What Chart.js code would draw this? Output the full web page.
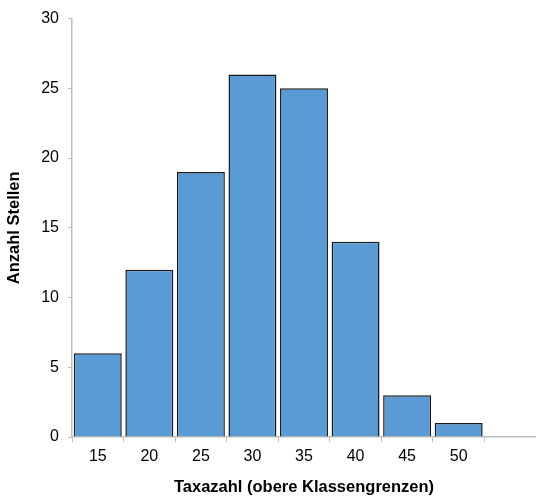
<!DOCTYPE html>
<html>
<head>
<meta charset="utf-8">
<script src="https://cdn.jsdelivr.net/npm/chart.js@4/dist/chart.umd.min.js"></script>
<style>
  html, body { margin: 0; padding: 0; background: #fff; }
  #wrap { width: 536px; height: 497px; position: relative; }
</style>
</head>
<body>
<div id="wrap"><canvas id="histChart"></canvas></div>
<script>
// obere Klassengrenzen (last slot stays empty, like the original axis)
const classLabels = ["15", "20", "25", "30", "35", "40", "45", "50", ""];
const siteCounts = [6, 12, 19, 26, 25, 14, 3, 1, null];
const yTicks = [0, 5, 10, 15, 20, 25, 30];

const axisGrey = "#bfbfbf";
const font = "'Liberation Sans', Arial, sans-serif";

new Chart(document.getElementById("histChart").getContext("2d"), {
    type: "bar",
    data: {
        labels: classLabels,
        datasets: [{
            label: "Anzahl Stellen",
            data: siteCounts,
            backgroundColor: "#5b9bd5",
            borderColor: "#1a1a1a",
            borderWidth: 1.5,
            barPercentage: 0.93,
            categoryPercentage: 1.0
        }]
    },
    options: {
        responsive: true,
        maintainAspectRatio: false,
        animation: false,
        layout: { padding: { top: 16, right: 0, bottom: 0, left: 0 } },
        plugins: {
            legend: { display: false },
            tooltip: { enabled: false }
        },
        scales: {
            x: {
                grid: {
                    display: true,
                    offset: true,
                    drawOnChartArea: false,
                    drawTicks: true,
                    tickLength: 5,
                    color: axisGrey
                },
                border: { color: axisGrey, width: 1.5 },
                ticks: {
                    color: "#000",
                    font: { family: font, size: 16 },
                    padding: 5,
                    maxRotation: 0
                },
                title: {
                    display: true,
                    text: "Taxazahl (obere Klassengrenzen)",
                    color: "#000",
                    font: { family: font, size: 16.5, weight: "bold" },
                    padding: { top: 8, bottom: 0 }
                },
                afterFit: s => { s.height = 60; }
            },
            y: {
                min: 0,
                max: 30,
                afterBuildTicks: s => { s.ticks = yTicks.map(v => ({ value: v })); },
                grid: {
                    display: true,
                    drawOnChartArea: false,
                    drawTicks: true,
                    tickLength: 4,
                    color: axisGrey
                },
                border: { color: axisGrey, width: 1.5 },
                ticks: {
                    color: "#000",
                    font: { family: font, size: 16 },
                    padding: 9
                },
                title: {
                    display: true,
                    text: "Anzahl Stellen",
                    color: "#000",
                    font: { family: font, size: 16.5, weight: "bold" },
                    padding: { top: 5, bottom: 0 }
                },
                afterFit: s => { s.width = 72; }
            }
        }
    }
});
</script>
</body>
</html>
